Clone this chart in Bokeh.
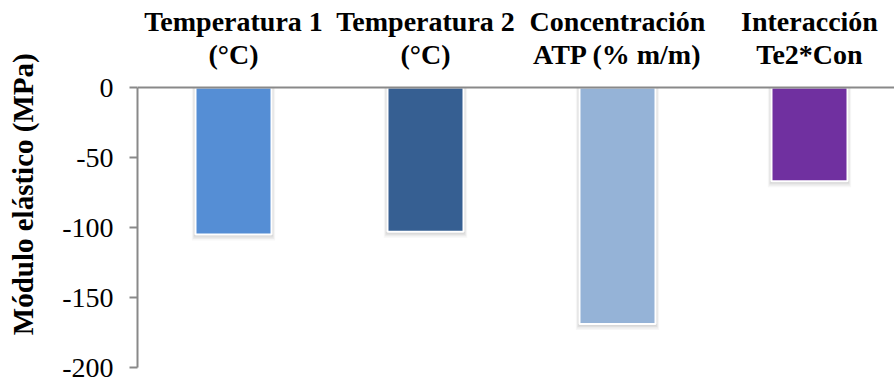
from bokeh.plotting import figure
from bokeh.models import Range1d, FixedTicker, Span
from bokeh.core.properties import value
from bokeh.embed import file_html
from bokeh.resources import INLINE

# Effect of each factor on the elastic modulus
categories = ["Temperatura 1\n(°C)", "Temperatura 2\n(°C)", "Concentración\nATP (% m/m)", "Interacción\nTe2*Con"]
values = [-105, -103, -169, -67]
colors = ["#558ED5", "#365F92", "#95B3D7", "#7030A0"]
y_ticks = [-200, -150, -100, -50, 0]
y_tick_labels = ["-200", "-150", "-100", "-50", "0"]
y_title = "Módulo elástico (MPa)"

FONT = "Liberation Serif"
AXIS_GREY = "#898989"

# page geometry (pixels)
W, H = 894, 379
LEFT = 137          # left edge of the plotting area
FRAME_TOP = 6       # frame reaches up so the category captions fit inside it
ZERO_PX = 87        # where the zero line sits
FRAME_BOTTOM = 367  # where -200 sits
SLOT_PX = 192       # width of one category slot
LINE1_PX, LINE2_PX = 21, 53.5     # caption anchor rows

frame_w = W - LEFT
x_start = 0.5
x_end = x_start + frame_w / SLOT_PX
y_min = -200
px_y = (FRAME_BOTTOM - ZERO_PX) / (0 - y_min)
y_max = (ZERO_PX - FRAME_TOP) / px_y
px_x = SLOT_PX

xs = list(range(1, len(values) + 1))
bar_w = 76 / SLOT_PX

p = figure(width=W, height=H, output_backend="svg", toolbar_location=None,
           x_range=Range1d(x_start, x_end), y_range=Range1d(y_min, y_max),
           x_axis_location=None, min_border_left=LEFT, min_border_top=FRAME_TOP,
           min_border_bottom=H - FRAME_BOTTOM, min_border_right=0)
p.outline_line_color = None
p.xgrid.visible = False
p.ygrid.visible = False
p.background_fill_color = "white"
p.border_fill_color = "white"

# soft drop shadow under each bar
for k, a in [(6, 0.05), (4.5, 0.07), (3, 0.09), (1.5, 0.1)]:
    p.vbar(x=xs, top=0, bottom=[v - k / px_y for v in values],
           width=bar_w + 2 * (k * 0.6) / px_x, fill_color="#606060",
           fill_alpha=a, line_color=None)

p.vbar(x=xs, top=0, bottom=values, width=bar_w, fill_color=colors,
       line_color="white", line_width=2)

# zero line, acting as the category axis
p.add_layout(Span(location=0, dimension="width", line_color=AXIS_GREY, line_width=2))

# category captions above the zero line
line1 = [c.split("\n")[0] for c in categories]
line2 = [c.split("\n")[1] for c in categories]
for lines, px in [(line1, LINE1_PX), (line2, LINE2_PX)]:
    p.text(x=xs, y=[(ZERO_PX - px) / px_y] * len(xs), text=lines,
           text_font=value(FONT), text_font_style="bold", text_font_size="28px",
           text_align="center", text_baseline="alphabetic", text_color="black")

# left value axis, drawn only over the value span
ya = p.yaxis[0]
ya.bounds = (y_min, 0)
ya.ticker = FixedTicker(ticks=y_ticks)
ya.major_label_overrides = {t: s for t, s in zip(y_ticks, y_tick_labels)}
ya.minor_tick_line_color = None
ya.major_tick_in = 0
ya.major_tick_out = 8
ya.major_tick_line_color = AXIS_GREY
ya.major_tick_line_width = 2
ya.axis_line_color = AXIS_GREY
ya.axis_line_width = 2
ya.major_label_text_font = FONT
ya.major_label_text_font_size = "28px"
ya.major_label_text_color = "black"
ya.major_label_standoff = 16
ya.axis_label = y_title + "\u00a0\u00a0"
ya.axis_label_text_font = FONT
ya.axis_label_text_font_style = "bold"
ya.axis_label_text_font_size = "29px"
ya.axis_label_text_color = "black"
ya.axis_label_standoff = 20

open("out.html", "w").write(file_html(p, INLINE))
